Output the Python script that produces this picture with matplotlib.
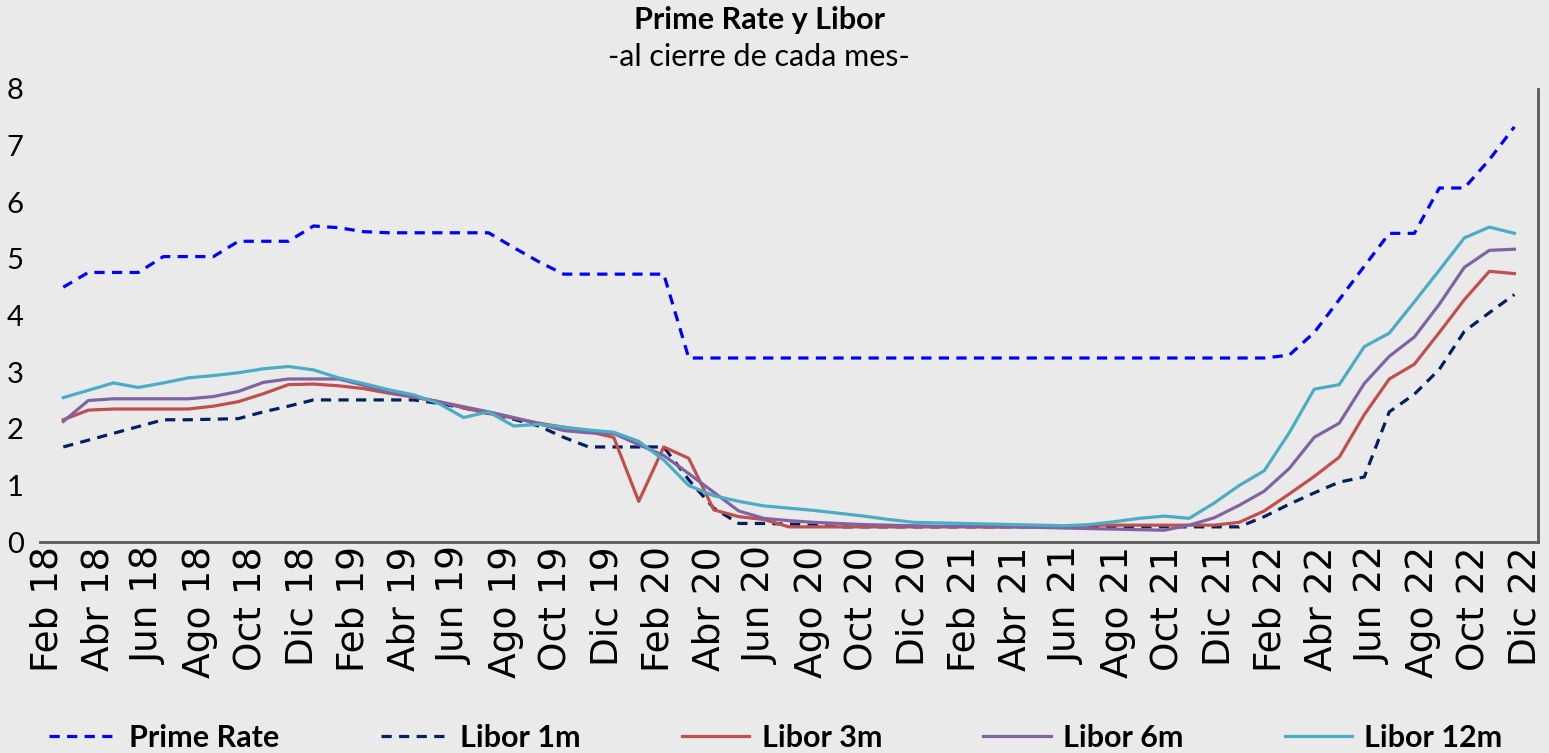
import numpy as np
import matplotlib
matplotlib.use("Agg")
import matplotlib.pyplot as plt

plt.rcParams['font.family'] = ['Lato', 'DejaVu Sans']

# meses Feb 18 .. Dic 22 (59 cierres)
meses = np.arange(59)
etiquetas = ["Feb 18", "Abr 18", "Jun 18", "Ago 18", "Oct 18", "Dic 18",
             "Feb 19", "Abr 19", "Jun 19", "Ago 19", "Oct 19", "Dic 19",
             "Feb 20", "Abr 20", "Jun 20", "Ago 20", "Oct 20", "Dic 20",
             "Feb 21", "Abr 21", "Jun 21", "Ago 21", "Oct 21", "Dic 21",
             "Feb 22", "Abr 22", "Jun 22", "Ago 22", "Oct 22", "Dic 22"]

prime = [4.5, 4.76, 4.76, 4.76, 5.04, 5.04, 5.04, 5.31, 5.31, 5.31,
         5.58, 5.55, 5.48, 5.46, 5.46, 5.46, 5.46, 5.46, 5.2, 4.95,
         4.73, 4.73, 4.73, 4.73, 4.73, 3.25] + [3.25] * 23 + \
        [3.3, 3.7, 4.28, 4.87, 5.45, 5.45, 6.25, 6.25, 6.75, 7.33]

libor_1m = [1.68, 1.8, 1.92, 2.04, 2.16, 2.16, 2.17, 2.18, 2.3, 2.4,
            2.51, 2.51, 2.51, 2.51, 2.51, 2.45, 2.37, 2.27, 2.17, 2.05,
            1.85, 1.68, 1.68, 1.68, 1.68, 1.1, 0.6, 0.33, 0.33, 0.32,
            0.3] + [0.27] * 17 + \
           [0.45, 0.67, 0.87, 1.06, 1.15, 2.3, 2.61, 3.05, 3.72, 4.05, 4.37]

libor_3m = [2.16, 2.33, 2.35, 2.35, 2.35, 2.35, 2.4, 2.48, 2.62, 2.78,
            2.79, 2.76, 2.71, 2.63, 2.56, 2.48, 2.37, 2.27, 2.19, 2.1,
            2.03, 1.95, 1.85, 0.72, 1.68, 1.48, 0.57, 0.45, 0.4, 0.27] + \
           [0.27] * 11 + [0.3] * 6 + \
           [0.35, 0.55, 0.85, 1.16, 1.5, 2.25, 2.88, 3.14, 3.7, 4.28, 4.78, 4.74]

libor_6m = [2.13, 2.5, 2.53, 2.53, 2.53, 2.53, 2.57, 2.66, 2.82, 2.88,
            2.88, 2.88, 2.77, 2.65, 2.57, 2.48, 2.39, 2.3, 2.2, 2.09,
            1.97, 1.93, 1.92, 1.72, 1.53, 1.21, 0.88, 0.55, 0.42, 0.38,
            0.35, 0.33, 0.31, 0.3, 0.29, 0.28, 0.28, 0.27, 0.27, 0.26,
            0.25, 0.24, 0.23, 0.22, 0.21, 0.3, 0.43, 0.65, 0.9, 1.3,
            1.85, 2.1, 2.8, 3.28, 3.62, 4.2, 4.85, 5.15, 5.17]

libor_12m = [2.55, 2.68, 2.81, 2.73, 2.81, 2.9, 2.94, 2.99, 3.06, 3.1,
             3.04, 2.9, 2.8, 2.69, 2.6, 2.45, 2.2, 2.3, 2.05, 2.08,
             2.03, 1.98, 1.94, 1.78, 1.45, 1.0, 0.82, 0.72, 0.64, 0.6,
             0.56, 0.51, 0.46, 0.4, 0.35, 0.34, 0.33, 0.32, 0.31, 0.3,
             0.29, 0.31, 0.36, 0.42, 0.46, 0.42, 0.69, 1.0, 1.26, 1.93,
             2.7, 2.78, 3.45, 3.69, 4.24, 4.8, 5.37, 5.56, 5.45]

fondo = "#eaeaea"
fig = plt.figure(figsize=(15.49, 7.53), dpi=100, facecolor=fondo)
ax = fig.add_axes([0.026, 0.280, 0.967, 0.602])
ax.set_facecolor("none")

lw = 2.3
ax.plot(meses, prime, color="#0000ff", lw=lw, ls=(0, (3.2, 2.3)), label="Prime Rate")
ax.plot(meses, libor_1m, color="#002060", lw=lw, ls=(0, (3.2, 2.3)), label="Libor 1m")
ax.plot(meses, libor_3m, color="#c0504d", lw=lw, label="Libor 3m")
ax.plot(meses, libor_6m, color="#8064a2", lw=lw, label="Libor 6m")
ax.plot(meses, libor_12m, color="#4bacc6", lw=lw, label="Libor 12m")

ax.set_xlim(-0.92, 58.95)
ax.set_ylim(0, 8)
ax.set_yticks(range(0, 9))
ax.tick_params(axis="y", length=0, pad=12, labelsize=21)
# las etiquetas del eje x van algo desplazadas respecto a los cierres
ax.set_xticks(np.arange(len(etiquetas)) * 2 * 1.0186 - 0.64)
ax.set_xticklabels(etiquetas, rotation=90, fontsize=27, family="DejaVu Sans")
ax.tick_params(axis="x", length=0, pad=3)

for lado in ["left", "top"]:
    ax.spines[lado].set_visible(False)
for lado in ["bottom", "right"]:
    ax.spines[lado].set_color("#595959")
    ax.spines[lado].set_linewidth(2)

fig.text(0.49, 1 - 20 / 753, "Prime Rate y Libor", ha="center", va="center",
         fontsize=22, fontweight="bold")
fig.text(0.49, 1 - 57 / 753, "-al cierre de cada mes-", ha="center", va="center",
         fontsize=22)

fig.legend(loc="center", bbox_to_anchor=(0.0142, 1 - 738 / 753 - 0.02, 0.9735, 0.04),
           mode="expand", ncol=5, frameon=False, handlelength=2.2,
           handletextpad=0.4, prop={"weight": "bold", "size": 22})

fig.savefig("out.png", dpi=100, facecolor=fondo)
